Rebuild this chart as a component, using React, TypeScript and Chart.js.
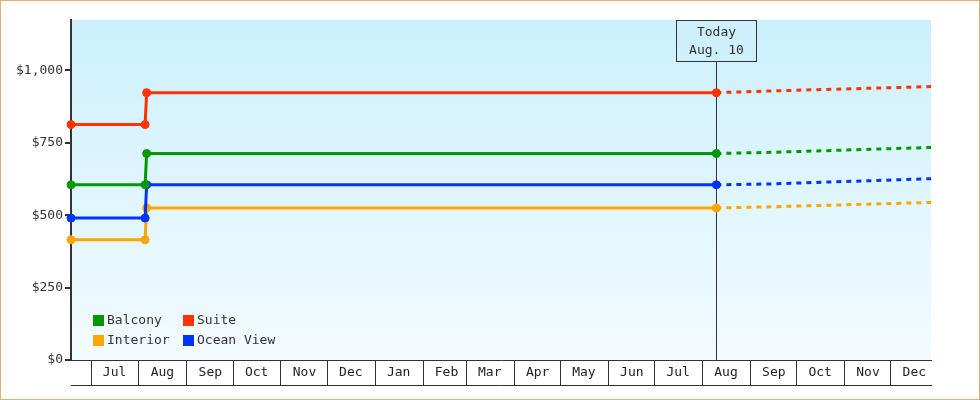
import { useEffect, useRef } from 'react';
import { Chart, registerables } from 'chart.js';

Chart.register(...registerables);

// dates of the price points, the last two are the forecast
const pointDates = ['2013-06-18', '2013-08-05', '2013-08-06', '2014-08-10', '2014-09-14', '2014-12-27'];
const todayDate = '2014-08-10';
const todayText = ['Today', 'Aug. 10'];

const monthStarts = [
  '2013-07-01', '2013-08-01', '2013-09-01', '2013-10-01', '2013-11-01', '2013-12-01',
  '2014-01-01', '2014-02-01', '2014-03-01', '2014-04-01', '2014-05-01', '2014-06-01',
  '2014-07-01', '2014-08-01', '2014-09-01', '2014-10-01', '2014-11-01', '2014-12-01',
];
const monthLabels = ['Jul', 'Aug', 'Sep', 'Oct', 'Nov', 'Dec', 'Jan', 'Feb', 'Mar', 'Apr', 'May', 'Jun', 'Jul', 'Aug', 'Sep', 'Oct', 'Nov', 'Dec'];
const yTicks = [0, 250, 500, 750, 1000];

const balcony = [605, 605, 713, 713, 717, 734];
const suite = [813, 813, 923, 923, 929, 944];
const interior = [415, 415, 525, 525, 529, 544];
const oceanView = [490, 490, 605, 605, 608, 626];

const FONT = 'DejaVu Sans Mono';
const TEXT = '#333';

const toMs = (d: string) => Date.parse(d);
const todayMs = toMs(todayDate);
const xMin = toMs(pointDates[0]);
const xMax = toMs(pointDates[pointDates.length - 1]);

function series(label: string, values: number[], color: string, order: number) {
  return {
    label,
    data: values.map((v, i) => ({ x: toMs(pointDates[i]), y: v })),
    borderColor: color,
    backgroundColor: color,
    borderWidth: 3,
    tension: 0,
    order,
    clip: false,
    pointRadius: (ctx: any) => (toMs(pointDates[ctx.dataIndex]) <= todayMs ? 4 : 0),
    pointHoverRadius: (ctx: any) => (toMs(pointDates[ctx.dataIndex]) <= todayMs ? 4 : 0),
    pointBorderWidth: 1,
    segment: {
      borderDash: (ctx: any) => (ctx.p0.parsed.x >= todayMs ? [5, 5] : undefined),
    },
  };
}

const backgroundPlugin = {
  id: 'plotBackground',
  beforeDraw(chart: any) {
    const { ctx, chartArea: a } = chart;
    const g = ctx.createLinearGradient(0, a.top, 0, a.bottom);
    g.addColorStop(0, '#ccf0fd');
    g.addColorStop(1, '#f3fbff');
    ctx.save();
    ctx.fillStyle = g;
    ctx.fillRect(a.left, a.top, a.right - a.left, a.bottom - a.top);
    ctx.restore();
  },
};

const todayPlugin = {
  id: 'todayMarker',
  beforeDatasetsDraw(chart: any) {
    const { ctx, chartArea: a, scales } = chart;
    const x = Math.round(scales.x.getPixelForValue(todayMs)) + 0.5;
    const boxW = 80;
    const boxH = 41;
    const top = a.top + 0.5;
    ctx.save();
    ctx.strokeStyle = TEXT;
    ctx.lineWidth = 1;
    ctx.beginPath();
    ctx.moveTo(x, top + boxH);
    ctx.lineTo(x, a.bottom);
    ctx.stroke();
    ctx.fillStyle = '#cdf0fc';
    ctx.fillRect(x - boxW / 2, top, boxW, boxH);
    ctx.strokeRect(x - boxW / 2, top, boxW, boxH);
    ctx.fillStyle = TEXT;
    ctx.font = `13px "${FONT}"`;
    ctx.textAlign = 'center';
    ctx.textBaseline = 'middle';
    todayText.forEach((t, i) => ctx.fillText(t, x, top + 12 + i * 18));
    ctx.restore();
  },
};

const legendPlugin = {
  id: 'insideLegend',
  afterDraw(chart: any) {
    const { ctx, chartArea: a } = chart;
    const sets = chart.data.datasets;
    ctx.save();
    ctx.font = `13px "${FONT}"`;
    ctx.textBaseline = 'middle';
    ctx.textAlign = 'left';
    sets.forEach((ds: any, i: number) => {
      const col = i % 2;
      const row = Math.floor(i / 2);
      const x = a.left + 22 + col * 90;
      const y = a.bottom - 45 + row * 20;
      ctx.fillStyle = ds.borderColor;
      ctx.fillRect(x, y, 11, 11);
      ctx.fillStyle = TEXT;
      ctx.fillText(ds.label, x + 14, y + 6);
    });
    ctx.restore();
  },
};

export default function App() {
  const canvasRef = useRef<HTMLCanvasElement>(null);

  useEffect(() => {
    if (!canvasRef.current) return;
    const chart = new Chart(canvasRef.current, {
      type: 'line',
      data: {
        datasets: [
          series('Balcony', balcony, '#009900', 0),
          series('Suite', suite, '#ff3300', 1),
          series('Interior', interior, '#ffa500', 3),
          series('Ocean View', oceanView, '#0033ff', 2),
        ],
      },
      options: {
        animation: false,
        responsive: false,
        layout: { padding: { top: 20, right: 49, bottom: 15, left: 0 } },
        plugins: {
          legend: { display: false },
          tooltip: { enabled: false },
        },
        scales: {
          x: {
            type: 'linear',
            position: 'bottom',
            min: xMin,
            max: xMax,
            afterBuildTicks: (s: any) => {
              s.ticks = monthStarts.map((d) => ({ value: toMs(d) }));
            },
            afterFit: (s: any) => {
              s.height = 25;
            },
            grid: { drawOnChartArea: false, drawTicks: true, tickLength: 25, color: TEXT, lineWidth: 1 },
            border: { display: true, color: TEXT, width: 1 },
            ticks: {
              autoSkip: false,
              maxRotation: 0,
              labelOffset: 23.5,
              padding: -25,
              color: '#222',
              font: { family: FONT, size: 13, lineHeight: '25px' },
              callback: (_v: any, i: number) => monthLabels[i],
            },
          },
          x2: {
            type: 'linear',
            position: 'bottom',
            min: xMin,
            max: xMax,
            afterFit: (s: any) => {
              s.height = 0;
            },
            grid: { display: false, drawTicks: false },
            border: { display: true, color: TEXT, width: 1 },
            ticks: { display: false },
          },
          y: {
            min: 0,
            max: 1174,
            afterBuildTicks: (s: any) => {
              s.ticks = yTicks.map((v) => ({ value: v }));
            },
            afterFit: (s: any) => {
              s.width = 71;
            },
            grid: { drawOnChartArea: false, drawTicks: true, tickLength: 6, color: TEXT, lineWidth: 2 },
            border: { display: true, color: TEXT, width: 2 },
            ticks: {
              padding: 2,
              color: TEXT,
              font: { family: FONT, size: 13 },
              callback: (v: any) => '$' + Number(v).toLocaleString('en-US'),
            },
          },
        },
      },
      plugins: [backgroundPlugin, todayPlugin, legendPlugin],
    });
    return () => chart.destroy();
  }, []);

  return (
    <div style={{ position: 'absolute', left: 0, top: 0, width: 980, height: 400, background: '#fff' }}>
      <canvas ref={canvasRef} width={980} height={400} />
      <div
        style={{
          position: 'absolute',
          inset: 0,
          border: '1px solid #e9ac6c',
          pointerEvents: 'none',
        }}
      />
    </div>
  );
}
